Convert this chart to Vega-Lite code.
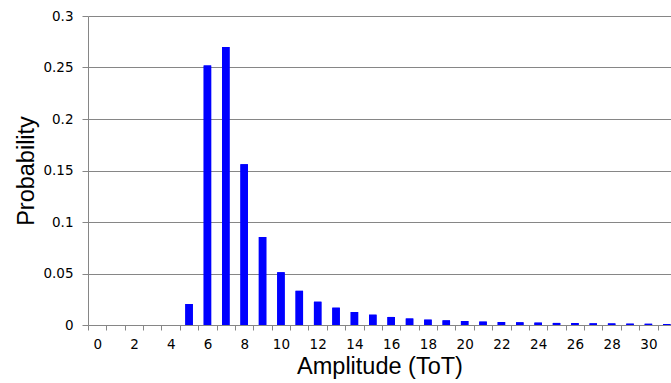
{
  "$schema": "https://vega.github.io/schema/vega-lite/v6.json",
  "autosize": "none",
  "padding": {"left": 88, "top": 16, "right": 0, "bottom": 58},
  "width": 583,
  "height": 309,
  "background": "white",
  "config": {
    "view": {"stroke": null},
    "axis": {"labelFont": "DejaVu Sans", "titleFont": "Liberation Sans", "titleFontWeight": "normal", "labelColor": "#000000", "titleColor": "#000000"}
  },
  "data": {"values": [
    {"a": 5, "p": 0.0204},
    {"a": 6, "p": 0.252},
    {"a": 7, "p": 0.270},
    {"a": 8, "p": 0.156},
    {"a": 9, "p": 0.0854},
    {"a": 10, "p": 0.0512},
    {"a": 11, "p": 0.0332},
    {"a": 12, "p": 0.0226},
    {"a": 13, "p": 0.0168},
    {"a": 14, "p": 0.0126},
    {"a": 15, "p": 0.0100},
    {"a": 16, "p": 0.0078},
    {"a": 17, "p": 0.0063},
    {"a": 18, "p": 0.0052},
    {"a": 19, "p": 0.0045},
    {"a": 20, "p": 0.0039},
    {"a": 21, "p": 0.0033},
    {"a": 22, "p": 0.0029},
    {"a": 23, "p": 0.0026},
    {"a": 24, "p": 0.0023},
    {"a": 25, "p": 0.0020},
    {"a": 26, "p": 0.0019},
    {"a": 27, "p": 0.0016},
    {"a": 28, "p": 0.0015},
    {"a": 29, "p": 0.0013},
    {"a": 30, "p": 0.0012},
    {"a": 31, "p": 0.0010}
  ]},
  "layer": [
    {
      "mark": {"type": "bar", "color": "#0000FF", "size": 7.5},
      "encoding": {
        "x": {"field": "a", "type": "quantitative",
          "scale": {"domain": [-0.5, 31.23], "nice": false, "zero": false, "padding": 0},
          "axis": {"orient": "bottom", "values": [0,2,4,6,8,10,12,14,16,18,20,22,24,26,28,30], "ticks": false, "grid": false,
            "domainColor": "#868686", "domainWidth": 1, "labelFontSize": 13.5, "labelPadding": 12,
            "title": "Amplitude (ToT)", "titleFontSize": 23.5, "titlePadding": 4}},
        "y": {"field": "p", "type": "quantitative",
          "scale": {"domain": [0, 0.3], "nice": false},
          "axis": {"values": [0, 0.05, 0.1, 0.15, 0.2, 0.25, 0.3], "format": "~g", "grid": true, "gridColor": "#868686",
            "domainColor": "#868686", "tickColor": "#868686", "tickSize": 6, "labelPadding": 9, "labelFontSize": 13.5,
            "title": "Probability", "titleFontSize": 23.5, "titlePadding": 4}}
      }
    },
    {
      "mark": {"type": "bar", "color": "#0000FF", "size": 7.5},
      "encoding": {
        "x": {"field": "a", "type": "quantitative",
          "axis": {"orient": "bottom", "values": [-0.5,0.5,1.5,2.5,3.5,4.5,5.5,6.5,7.5,8.5,9.5,10.5,11.5,12.5,13.5,14.5,15.5,16.5,17.5,18.5,19.5,20.5,21.5,22.5,23.5,24.5,25.5,26.5,27.5,28.5,29.5,30.5],
            "labels": false, "domain": false, "grid": false, "ticks": true, "tickSize": 5, "tickColor": "#868686", "title": null}},
        "y": {"field": "p", "type": "quantitative"}
      }
    }
  ],
  "resolve": {"axis": {"x": "independent"}}
}
